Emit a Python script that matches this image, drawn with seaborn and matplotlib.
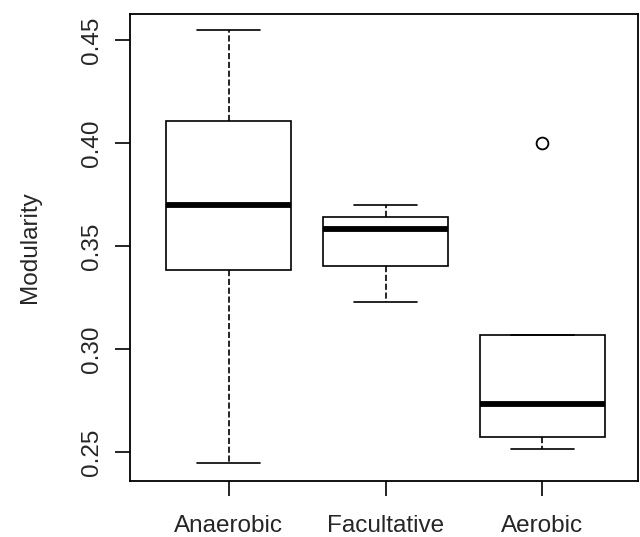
import numpy as np
import pandas as pd
import matplotlib
matplotlib.use("Agg")
import matplotlib.pyplot as plt
import seaborn as sns

# values
categories = ["Anaerobic", "Facultative", "Aerobic"]
anaerobic = [0.2447, 0.3383, 0.3700, 0.4107, 0.4549]
facultative = [0.3228, 0.3403, 0.3583, 0.3641, 0.3700]
aerobic = [0.2515, 0.2573, 0.2733, 0.3068, 0.4000]
yticks = [0.25, 0.30, 0.35, 0.40, 0.45]

df = pd.DataFrame({
    "group": ["Anaerobic"] * len(anaerobic) + ["Facultative"] * len(facultative) + ["Aerobic"] * len(aerobic),
    "Modularity": anaerobic + facultative + aerobic,
})

sns.set_style("white")
plt.rcParams["font.family"] = ["Liberation Sans", "DejaVu Sans"]

fig = plt.figure(figsize=(6.4, 5.37), dpi=100)
ax = fig.add_axes([130 / 640, 1 - 481 / 537, 508 / 640, 467 / 537])

sns.boxplot(data=df, x="group", y="Modularity", order=categories, ax=ax,
            width=0.8, color="white", linecolor="black", linewidth=1.2,
            whis=1.5,
            whiskerprops=dict(linestyle="--"),
            medianprops=dict(linewidth=4.2, color="black", solid_capstyle="butt"),
            flierprops=dict(marker="o", markersize=8.5, markerfacecolor="none",
                            markeredgecolor="black", markeredgewidth=1.3))

ax.set_xlim(-0.63, 2.61)
ax.set_ylim(0.2359, 0.4626)
ax.set_yticks(yticks)
ax.set_yticklabels([f"{t:.2f}" for t in yticks], rotation=90, va="center")
ax.set_xlabel("")
ax.set_ylabel("Modularity", fontsize=17.5, labelpad=29)
ax.tick_params(axis="both", direction="out", length=11, width=1.2, color="black",
               labelsize=17.5, pad=8.5, left=True, bottom=True)
ax.tick_params(axis="x", pad=13.5)
for s in ax.spines.values():
    s.set_color("black")
    s.set_linewidth(1.3)

fig.savefig("out.png", dpi=100)
